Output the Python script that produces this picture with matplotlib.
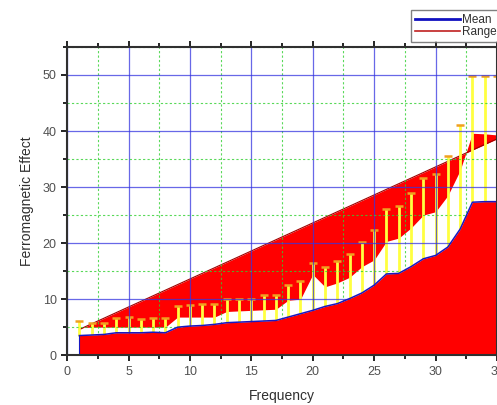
#!/usr/bin/env python3
"""Ferromagnetic effect vs frequency: mean area, range band and yellow error bars."""

import matplotlib
matplotlib.use('Agg')
import matplotlib.pyplot as plt
from matplotlib.lines import Line2D
from matplotlib.ticker import MultipleLocator

plt.rcParams['font.family'] = ['Liberation Sans', 'DejaVu Sans']

# Datos
freq = list(range(1, 36))
mean = [3.5, 3.6, 3.7, 4.0, 4.0, 4.0, 4.1, 4.0, 5.0, 5.2,
        5.3, 5.5, 5.8, 5.9, 6.0, 6.1, 6.2, 6.8, 7.4, 8.0,
        8.7, 9.2, 10.1, 11.1, 12.5, 14.5, 14.6, 15.8, 17.2, 17.8,
        19.3, 22.5, 27.3, 27.4, 27.4]
range_low = [4.9, 5.0, 5.0, 5.0, 5.0, 5.0, 5.0, 5.0, 6.8, 6.8,
             6.8, 6.8, 7.8, 7.9, 8.0, 8.1, 8.2, 9.8, 10.0, 14.4,
             12.2, 12.9, 13.9, 15.8, 17.0, 20.3, 20.9, 22.7, 25.0, 25.6,
             28.5, 33.0, 39.6, 39.5, 39.3]
range_line = [4.6, 5.6, 6.6, 7.6, 8.6, 9.6, 10.6, 11.6, 12.6, 13.6,
              14.6, 15.6, 16.6, 17.6, 18.6, 19.6, 20.6, 21.6, 22.6, 23.6,
              24.6, 25.6, 26.6, 27.6, 28.6, 29.6, 30.6, 31.6, 32.6, 33.6,
              34.6, 35.6, 36.6, 37.6, 38.6]
bar_top = [6.1, 5.8, 5.8, 6.7, 6.8, 6.5, 6.7, 6.6, 8.8, 9.0,
           9.1, 9.2, 10.0, 10.0, 10.1, 10.7, 10.7, 12.5, 13.3, 16.5,
           15.8, 16.8, 18.0, 20.2, 22.3, 26.0, 26.7, 29.0, 31.7, 32.3,
           35.5, 41.0, 49.8, 49.8, 49.8]

fig = plt.figure(figsize=(4.97, 4.05), dpi=100)
ax = fig.add_axes([0.135, 0.123, 0.865, 0.761])

# Banda del rango (rojo superior)
ax.fill_between(freq, range_low, range_line, color='#ff0000', lw=0, zorder=1)
ax.plot(freq, range_line, color='#a00000', lw=0.8, zorder=1.5)

# Barras de error amarillas
ax.vlines(freq, mean, bar_top, color='#ffff40', lw=2.0, zorder=2)
ax.plot(freq, bar_top, ls='none', marker='_', ms=6, mew=1.8,
        color='#f0a020', zorder=2.1)

# Área de la media (rojo inferior)
ax.fill_between(freq, 0, mean, color='#ff0000', lw=0, zorder=3)
ax.plot(freq, mean, color='#1818c0', lw=1.1, zorder=3.5)
ax.plot([freq[0], freq[0]], [0, mean[0]], color='#1818c0', lw=0.8, zorder=3.5)

ax.set_xlim(0, 35)
ax.set_ylim(0, 55)
ax.xaxis.set_major_locator(MultipleLocator(5))
ax.xaxis.set_minor_locator(MultipleLocator(2.5))
ax.yaxis.set_major_locator(MultipleLocator(10))
ax.yaxis.set_minor_locator(MultipleLocator(5))

ax.grid(which='major', color='#3535e0', lw=0.9, alpha=0.75, zorder=4)
ax.grid(which='minor', color='#30d030', lw=0.8, ls=(0, (2, 2)), alpha=0.8, zorder=4)
ax.set_axisbelow(False)

ax.tick_params(which='both', direction='out', top=True, labelsize=9,
               labelcolor='#505050', width=1.2)
ax.tick_params(which='major', length=4)
ax.tick_params(which='minor', length=3)
for side in ['left', 'bottom', 'top', 'right']:
    ax.spines[side].set_linewidth(1.5)
    ax.spines[side].set_color('#303030')
    ax.spines[side].set_zorder(6)

ax.set_xlabel('Frequency', fontsize=10, labelpad=8, color='#303030')
ax.set_ylabel('Ferromagnetic Effect', fontsize=10, labelpad=6, color='#303030')

handles = [Line2D([], [], color='#1010c0', lw=2),
           Line2D([], [], color='#c02020', lw=1.2)]
leg = fig.legend(handles, ['Mean', 'Range'], loc='upper right',
                 bbox_to_anchor=(1.015, 0.985), fontsize=8.5, frameon=True,
                 fancybox=False, handlelength=3.8, handletextpad=0.2,
                 borderpad=0.35, labelspacing=0.05, borderaxespad=0.3,
                 edgecolor='#606060')
leg.get_frame().set_linewidth(1.0)
for t in leg.get_texts():
    t.set_color('#303030')

fig.savefig('out.png', dpi=100)
